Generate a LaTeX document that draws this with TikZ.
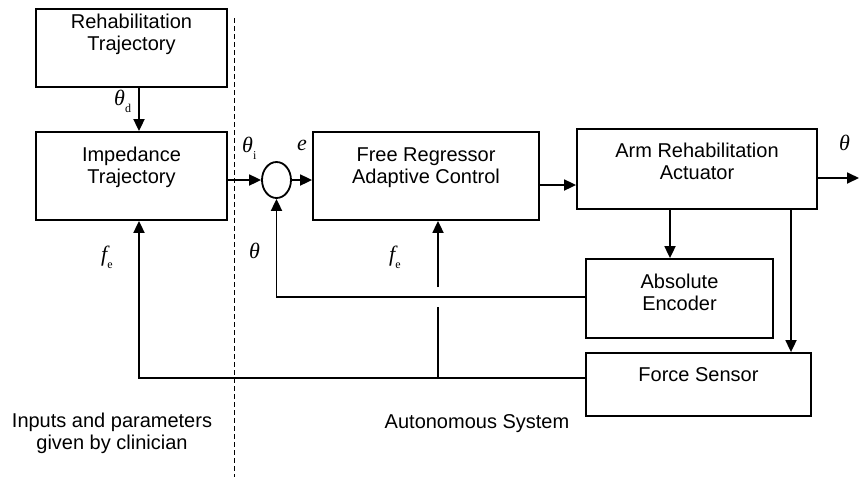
\documentclass[tikz,border=0pt]{standalone}
\usepackage{fontspec}
\setmainfont{Liberation Sans}
\newfontfamily\sigfont{Liberation Serif}
\usetikzlibrary{arrows.meta,calc,shapes.geometric}
% signal name: italic symbol with a small upright index set low
\newcommand{\signame}[2]{{\itshape #1}\raisebox{-7pt}{\fontsize{12}{12}\selectfont #2}}

\begin{document}
\begin{tikzpicture}[x=1pt,y=-1pt,
  blk/.style={draw,line width=1.8pt,inner sep=0pt},
  boxtext/.style={anchor=north,align=center,inner sep=0pt,yshift=-#1pt,font=\fontsize{20}{22}\selectfont},
  sig/.style={line width=1.8pt},
  arr/.style={sig,-{Triangle[length=12pt,width=11pt]}},
  mlbl/.style={anchor=base west,inner sep=0pt,font=\sigfont\fontsize{22}{24}\selectfont},
  note/.style={align=center,inner sep=0pt,font=\fontsize{20}{22}\selectfont}]
\useasboundingbox (0,0) rectangle (859,477);
% blocks
\node[blk,minimum width=191pt,minimum height=78pt,label={[boxtext=6]north:{Rehabilitation\\Trajectory}}] (rehab) at (131.5,48) {};
\node[blk,minimum width=191pt,minimum height=88pt,label={[boxtext=16]north:{Impedance\\Trajectory}}] (imp) at (131.5,176) {};
\node[blk,ellipse,minimum width=29pt,minimum height=36pt] (sum) at (276.5,180) {};
\node[blk,minimum width=226pt,minimum height=88pt,label={[boxtext=16]north:{Free Regressor\\Adaptive Control}}] (freg) at (426,176) {};
\node[blk,minimum width=240pt,minimum height=80pt,label={[boxtext=15]north:{Arm Rehabilitation\\Actuator}}] (arm) at (697,169) {};
\node[blk,minimum width=187pt,minimum height=79pt,label={[boxtext=16]north:{Absolute\\Encoder}}] (enc) at (679.5,298.5) {};
\node[blk,minimum width=225pt,minimum height=63pt,label={[boxtext=15]north:{Force Sensor}}] (force) at (698.5,384.5) {};
% boundary between clinician and system
\coordinate (dtop) at (234,18);
\coordinate (dbot) at (234,477);
\draw[line width=1pt,dash pattern=on 5pt off 3pt] (dtop) -- (dbot);
% forward path
\draw[arr] ([xshift=7.5pt]rehab.south) -- ([xshift=7.5pt]imp.north);
\draw[arr] (sum.west -| imp.east) -- (sum.west);
\draw[arr] (sum.east) -- (sum.east -| freg.west);
\coordinate (u) at ([yshift=-9pt]freg.east);
\draw[arr] (u) -- (u -| arm.west);
\coordinate (out) at (859,178);
\draw[arr] (out -| arm.east) -- (out);
\coordinate (encin) at ([xshift=-9.5pt]enc.north);
\draw[arr] (encin |- arm.south) -- (encin);
\coordinate (frcin) at ([xshift=94pt]arm.south);
\draw[arr] (frcin) -- (frcin |- force.north);
% feedback
\coordinate (encout) at ([yshift=1.5pt]enc.west);
\draw[arr] (encout) -| (sum.south);
\coordinate (fb) at ([yshift=6.5pt]force.west);
\draw[arr] (fb) -| ([xshift=7.5pt]imp.south);
\coordinate (fin) at ([xshift=12pt]freg.south);
\draw[sig] (fin |- fb) -- ($(fin |- encout)+(0,10)$);
\draw[arr] ($(fin |- encout)-(0,10)$) -- (fin);
% signal labels
\node[mlbl] (thd) at (114,105) {\signame{θ}{d}};
\node[mlbl] (thi) at (242,152) {\signame{θ}{i}};
\node[mlbl] (err) at (297,150) {\signame{e}{}};
\node[mlbl] (thfb) at (249,258) {\signame{θ}{}};
\node[mlbl] (fe1) at (101,261) {\signame{f}{e}};
\node[mlbl] (fe2) at (389,261) {\signame{f}{e}};
\node[mlbl] (thout) at (839,150) {\signame{θ}{}};
% notes
\node[note] (clin) at (112,433) {Inputs and parameters\\given by clinician};
\node[note,anchor=base] (auto) at (477,428) {Autonomous System};
\end{tikzpicture}
\end{document}
